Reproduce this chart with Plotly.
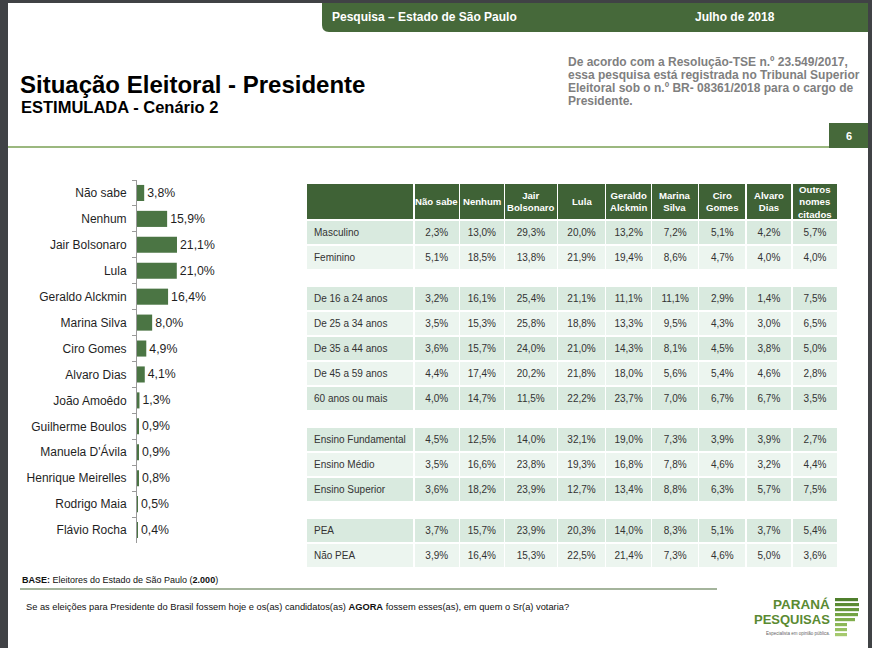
import plotly.graph_objects as go

W, H = 872, 648
def X(px): return px / W
def Y(py): return 1 - py / H

# ---------------- data ----------------
candidates = ["Não sabe", "Nenhum", "Jair Bolsonaro", "Lula", "Geraldo Alckmin", "Marina Silva",
              "Ciro Gomes", "Alvaro Dias", "João Amoêdo", "Guilherme Boulos", "Manuela D'Ávila",
              "Henrique Meirelles", "Rodrigo Maia", "Flávio Rocha"]
votes = [3.8, 15.9, 21.1, 21.0, 16.4, 8.0, 4.9, 4.1, 1.3, 0.9, 0.9, 0.8, 0.5, 0.4]

table_columns = ["Não sabe", "Nenhum", "Jair<br>Bolsonaro", "Lula", "Geraldo<br>Alckmin", "Marina<br>Silva",
                 "Ciro<br>Gomes", "Alvaro<br>Dias", "Outros<br>nomes<br>citados"]

sexo_rows = ["Masculino", "Feminino"]
sexo_vals = [
    [2.3, 13.0, 29.3, 20.0, 13.2, 7.2, 5.1, 4.2, 5.7],
    [5.1, 18.5, 13.8, 21.9, 19.4, 8.6, 4.7, 4.0, 4.0],
]
idade_rows = ["De 16 a 24 anos", "De 25 a 34 anos", "De 35 a 44 anos", "De 45 a 59 anos", "60 anos ou mais"]
idade_vals = [
    [3.2, 16.1, 25.4, 21.1, 11.1, 11.1, 2.9, 1.4, 7.5],
    [3.5, 15.3, 25.8, 18.8, 13.3, 9.5, 4.3, 3.0, 6.5],
    [3.6, 15.7, 24.0, 21.0, 14.3, 8.1, 4.5, 3.8, 5.0],
    [4.4, 17.4, 20.2, 21.8, 18.0, 5.6, 5.4, 4.6, 2.8],
    [4.0, 14.7, 11.5, 22.2, 23.7, 7.0, 6.7, 6.7, 3.5],
]
ensino_rows = ["Ensino Fundamental", "Ensino Médio", "Ensino Superior"]
ensino_vals = [
    [4.5, 12.5, 14.0, 32.1, 19.0, 7.3, 3.9, 3.9, 2.7],
    [3.5, 16.6, 23.8, 19.3, 16.8, 7.8, 4.6, 3.2, 4.4],
    [3.6, 18.2, 23.9, 12.7, 13.4, 8.8, 6.3, 5.7, 7.5],
]
pea_rows = ["PEA", "Não PEA"]
pea_vals = [
    [3.7, 15.7, 23.9, 20.3, 14.0, 8.3, 5.1, 3.7, 5.4],
    [3.9, 16.4, 15.3, 22.5, 21.4, 7.3, 4.6, 5.0, 3.6],
]

# ---------------- styles ----------------
FONT = "Liberation Sans, Arial, sans-serif"
GREEN = "#46693a"
HEAD_GREEN = "#3f6236"
BAR_GREEN = "#4b7544"
DARK_ROW = "#d9eadf"
LIGHT_ROW = "#ecf5ef"
TXT = "#333333"
NBSP = "\u00a0"

def pct(v):
    return f"{v:.1f}%".replace(".", ",")

fig = go.Figure()

# ---------------- bar chart ----------------
fig.add_trace(go.Bar(
    x=votes, y=candidates, orientation="h",
    marker=dict(color=BAR_GREEN, line=dict(width=0)),
    text=[pct(v) for v in votes], textposition="outside",
    textfont=dict(family=FONT, size=12.3, color="#1f1f1f"),
    cliponaxis=False, hoverinfo="skip", width=0.62,
))

# ---------------- table ----------------
col_w = [108, 45, 45, 53, 48, 46, 47, 47, 46, 46]
T_LEFT, T_RIGHT = 306, 838
tx0, tx1 = X(T_LEFT), X(T_RIGHT)
n_cols = len(table_columns) + 1

def row_colors(n):
    return [DARK_ROW if i % 2 == 0 else LIGHT_ROW for i in range(n)]

def columns_of(rows, vals):
    cols = [[r.replace(" ", NBSP) for r in rows]]
    for j in range(len(table_columns)):
        cols.append([pct(r[j]) for r in vals])
    return cols

cell_font = dict(family=FONT, size=10, color=TXT)
aligns = ["left"] + ["center"] * (n_cols - 1)

# group 1: green header row + sexo rows
fig.add_trace(go.Table(
    domain=dict(x=[tx0, tx1], y=[Y(300), Y(183)]),
    columnwidth=col_w,
    header=dict(values=[""] * n_cols,
                fill_color=HEAD_GREEN, line=dict(color="white", width=1.5),
                font=dict(family=FONT, size=10, color="white"), align="center", height=37),
    cells=dict(values=columns_of(sexo_rows, sexo_vals),
               fill_color=[row_colors(len(sexo_rows))] * n_cols,
               line=dict(color="white", width=1.5), font=cell_font, align=aligns, height=25),
))

# other groups: first row drawn as the table's header row, same style as cells
def group_table(rows, vals, top):
    cols = columns_of(rows, vals)
    head = [c[0] for c in cols]
    body = [c[1:] for c in cols]
    colors = row_colors(len(rows))[1:]
    fig.add_trace(go.Table(
        domain=dict(x=[tx0, tx1], y=[Y(top + 25 * len(rows) + 30), Y(top)]),
        columnwidth=col_w,
        header=dict(values=head, fill_color=DARK_ROW, line=dict(color="white", width=1.5),
                    font=cell_font, align=aligns, height=25),
        cells=dict(values=body, fill_color=[colors] * n_cols,
                   line=dict(color="white", width=1.5), font=cell_font, align=aligns, height=25),
    ))

group_table(idade_rows, idade_vals, 286)
group_table(ensino_rows, ensino_vals, 427)
group_table(pea_rows, pea_vals, 518)

# ---------------- decorations ----------------
shapes = []
shapes.append(dict(type="rect", xref="paper", yref="paper", x0=X(0), x1=X(8), y0=Y(648), y1=Y(0),
                   fillcolor="#404245", line=dict(width=0), layer="above"))
shapes.append(dict(type="rect", xref="paper", yref="paper", x0=X(0), x1=X(872), y0=Y(3), y1=Y(0),
                   fillcolor="#404245", line=dict(width=0), layer="above"))
shapes.append(dict(type="rect", xref="paper", yref="paper", x0=X(868), x1=X(872), y0=Y(648), y1=Y(3),
                   fillcolor="#404245", line=dict(width=0), layer="above"))
path = (f"M {X(322)},{Y(3)} L {X(868)},{Y(3)} L {X(868)},{Y(32)} L {X(329)},{Y(32)} "
        f"Q {X(322)},{Y(32)} {X(322)},{Y(25)} Z")
shapes.append(dict(type="path", xref="paper", yref="paper", path=path,
                   fillcolor=GREEN, line=dict(width=0)))
shapes.append(dict(type="line", xref="paper", yref="paper", x0=X(8), x1=X(830), y0=Y(147), y1=Y(147),
                   line=dict(color="#9bb87f", width=2)))
shapes.append(dict(type="rect", xref="paper", yref="paper", x0=X(829), x1=X(868), y0=Y(148), y1=Y(123),
                   fillcolor=GREEN, line=dict(width=0)))
shapes.append(dict(type="line", xref="paper", yref="paper", x0=X(20), x1=X(717), y0=Y(589), y1=Y(589),
                   line=dict(color="#4a6b3a", width=1.2)))
stripe_specs = [(598, 858, "#4f7f2c"), (603, 859, "#5b8b33"), (608, 859, "#67973b"),
                (613, 858, "#73a343"), (618, 855, "#80ad4c"), (623, 847, "#8cb757"),
                (628, 847, "#98c062"), (633, 847, "#a5c96e")]
for yy, xr, cc in stripe_specs:
    shapes.append(dict(type="rect", xref="paper", yref="paper", x0=X(835), x1=X(xr), y0=Y(yy + 3.2), y1=Y(yy),
                       fillcolor=cc, line=dict(width=0)))

ann = []
def txt(x, y, s, size, color="#000", bold=False, xanchor="left", yanchor="middle", align="left"):
    ann.append(dict(xref="paper", yref="paper", x=X(x), y=Y(y), text=f"<b>{s}</b>" if bold else s,
                    showarrow=False, xanchor=xanchor, yanchor=yanchor, align=align,
                    font=dict(family=FONT, size=size, color=color)))

# table column titles, centred in the green header row
scale = (T_RIGHT - T_LEFT) / sum(col_w)
edge = T_LEFT + col_w[0] * scale
for label, w in zip(table_columns, col_w[1:]):
    txt(edge + w * scale / 2, 201.5, label, 9.6, "white", True, xanchor="center", align="center")
    edge += w * scale

txt(330, 17.5, "Pesquisa – Estado de São Paulo", 12, "white", True)
txt(735, 17.5, "Julho de 2018", 12, "white", True, xanchor="center")
txt(18, 84, "Situação Eleitoral - Presidente", 24, "#000", True)
txt(19, 106.5, "ESTIMULADA - Cenário 2", 16.5, "#000", True)
right_lines = ["De acordo com a Resolução-TSE n.º 23.549/2017,",
               "essa pesquisa está registrada no Tribunal Superior",
               "Eleitoral sob o n.º BR- 08361/2018 para o cargo de",
               "Presidente."]
for i, line in enumerate(right_lines):
    txt(566, 62 + 12.9 * i, line, 12, "#7f7f7f", True)
txt(848.5, 136, "6", 11, "white", True, xanchor="center")
txt(20, 580, "<b>BASE:</b> Eleitores do Estado de São Paulo (<b>2.000</b>)", 9, "#111")
txt(24, 607, "Se as eleições para Presidente do Brasil fossem hoje e os(as) candidatos(as) "
             "<b>AGORA</b> fossem esses(as), em quem o Sr(a) votaria?", 9.3, "#111")
txt(832, 604, "PARANÁ", 13.5, "#5a8a32", True, xanchor="right")
txt(832, 619, "PESQUISAS", 13, "#5a8a32", True, xanchor="right")
txt(832, 633, "Especialista em opinião pública.", 4.5, "#666", False, xanchor="right")

fig.update_layout(
    width=W, height=H, margin=dict(l=0, r=0, t=0, b=0),
    paper_bgcolor="white", plot_bgcolor="white",
    showlegend=False, shapes=shapes, annotations=ann,
    font=dict(family=FONT),
    xaxis=dict(domain=[X(137), X(300)], range=[0, 86], visible=False, fixedrange=True),
    yaxis=dict(domain=[Y(543), Y(180)], autorange="reversed", type="category",
               showline=True, linecolor="#9a9a9a", linewidth=1,
               ticks="outside", ticklen=4, tickcolor="#9a9a9a", tickson="boundaries",
               ticklabelstandoff=7,
               tickfont=dict(family=FONT, size=12, color="#1f1f1f"), showgrid=False, fixedrange=True),
)

fig.write_html("out.html", config={"displayModeBar": False},
               post_script="document.body.style.margin='0';document.body.style.overflow='hidden';")
